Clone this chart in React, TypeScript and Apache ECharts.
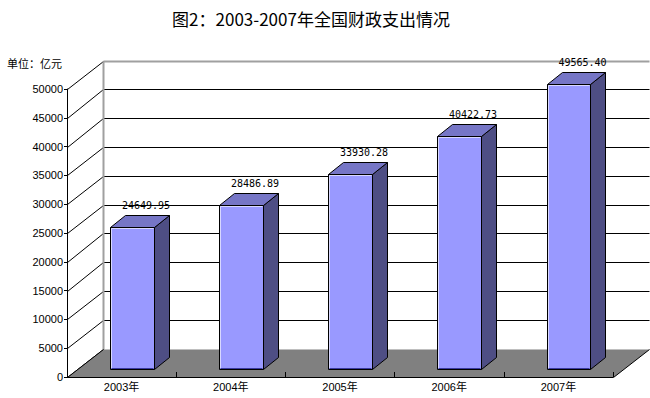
import React, { useEffect, useRef } from "react";
import * as echarts from "echarts";

const categories = ["2003年", "2004年", "2005年", "2006年", "2007年"];
const spending = [24649.95, 28486.89, 33930.28, 40422.73, 49565.4];
const valueLabels = ["24649.95", "28486.89", "33930.28", "40422.73", "49565.40"];
const yTicks = [0, 5000, 10000, 15000, 20000, 25000, 30000, 35000, 40000, 45000, 50000];
const titleText = "图2：2003-2007年全国财政支出情况";
const unitText = "单位：亿元";

const DX = 36;
const DY = -28.5;
const BAR_FRONT = 0.28;
const BAR_BACK = 0.71;
const Y_MAX = 50000;

const px = (v: number) => Math.round(v) + 0.5;

export default function App() {
  const ref = useRef<HTMLDivElement>(null);
  useEffect(() => {
    if (!ref.current) return;
    const chart = echarts.init(ref.current, null, { renderer: "svg" });

    const wallItem = (params: any, api: any) => {
      const cs = params.coordSys;
      const v = api.value(1);
      const p = api.coord([0, v]);
      const x0 = cs.x;
      const x1 = cs.x + cs.width;
      const y = p[1];
      const children: any[] = [];
      children.push({
        type: "line",
        shape: { x1: px(x0), y1: px(y), x2: px(x0 + DX), y2: px(y + DY) },
        style: { stroke: "#000", lineWidth: 1 },
      });
      if (v > 0) {
        children.push({
          type: "line",
          shape: { x1: px(x0 + DX), y1: px(y + DY), x2: px(x1 + DX), y2: px(y + DY) },
          style: { stroke: v >= Y_MAX ? "#a0a0a0" : "#000", lineWidth: v >= Y_MAX ? 2 : 1 },
        });
      }
      if (v >= Y_MAX) {
        const yb = api.coord([0, 0])[1];
        children.push({
          type: "line",
          shape: { x1: px(x0 + DX), y1: px(y + DY), x2: px(x0 + DX), y2: px(yb + DY) },
          style: { stroke: "#a0a0a0", lineWidth: 2 },
        });
      }
      return { type: "group", children };
    };

    const floorItem = (params: any, api: any) => {
      const cs = params.coordSys;
      const x0 = cs.x;
      const x1 = cs.x + cs.width;
      const y0 = api.coord([0, 0])[1];
      return {
        type: "group",
        children: [
          {
            type: "polygon",
            shape: {
              points: [
                [px(x0), px(y0)],
                [px(x1), px(y0)],
                [px(x1 + DX), px(y0 + DY)],
                [px(x0 + DX), px(y0 + DY)],
              ],
            },
            style: { fill: "#808080" },
          },
          {
            type: "line",
            shape: { x1: px(x0), y1: px(y0), x2: px(x0 + DX), y2: px(y0 + DY) },
            style: { stroke: "#000", lineWidth: 1 },
          },
          {
            type: "line",
            shape: { x1: px(x1), y1: px(y0), x2: px(x1 + DX), y2: px(y0 + DY) },
            style: { stroke: "#000", lineWidth: 1 },
          },
        ],
      };
    };

    const barItem = (params: any, api: any) => {
      const idx = api.value(0);
      const val = api.value(1);
      const base = api.coord([idx, 0]);
      const top = api.coord([idx, val]);
      const bw = api.size([1, 0])[0] * 0.4;
      const fx = DX * BAR_FRONT;
      const fy = DY * BAR_FRONT;
      const bdx = DX * (BAR_BACK - BAR_FRONT);
      const bdy = DY * (BAR_BACK - BAR_FRONT);
      const xl = px(base[0] - bw / 2 + fx);
      const xr = px(base[0] + bw / 2 + fx);
      const yt = px(top[1] + fy);
      const yb = px(base[1] + fy);
      const ox = Math.round(bdx);
      const oy = Math.round(bdy);
      return {
        type: "group",
        children: [
          {
            type: "polygon",
            shape: { points: [[xr, yt], [xr + ox, yt + oy], [xr + ox, yb + oy], [xr, yb]] },
            style: { fill: "#4e4e84", stroke: "#000", lineWidth: 1 },
          },
          {
            type: "polygon",
            shape: { points: [[xl, yt], [xr, yt], [xr + ox, yt + oy], [xl + ox, yt + oy]] },
            style: { fill: "#7676c6", stroke: "#000", lineWidth: 1 },
          },
          {
            type: "rect",
            shape: { x: xl, y: yt, width: xr - xl, height: yb - yt },
            style: { fill: "#9999ff", stroke: "#000", lineWidth: 1 },
          },
          {
            type: "polyline",
            shape: { points: [[xl + 1, yb - 1], [xl + 1, yt + 1], [xr - 1, yt + 1]] },
            style: { fill: null, stroke: "#d8d8ff", lineWidth: 1 },
          },
          {
            type: "line",
            shape: { x1: xl + 1, y1: yb - 1, x2: xr - 1, y2: yb - 1 },
            style: { stroke: "#3a3aa0", lineWidth: 1 },
          },
          {
            type: "text",
            style: {
              text: valueLabels[params.dataIndex],
              x: (xl + xr) / 2 + bdx * 0.87,
              y: yt + oy - 10.5,
              textAlign: "center",
              textVerticalAlign: "middle",
              font: '10px "DejaVu Sans Mono"',
              fill: "#000",
            },
          },
        ],
      };
    };

    chart.setOption({
      animation: false,
      backgroundColor: "#fff",
      grid: { left: 67, top: 89, width: 546, height: 288 },
      graphic: [
        {
          type: "text",
          style: {
            text: titleText,
            x: 311,
            y: 18,
            textAlign: "center",
            textVerticalAlign: "middle",
            font: '17px "Noto Sans CJK SC"',
            fill: "#000",
          },
        },
        {
          type: "text",
          style: {
            text: unitText,
            x: 7,
            y: 63,
            textAlign: "left",
            textVerticalAlign: "middle",
            font: '11px "Noto Sans CJK SC"',
            fill: "#000",
          },
        },
      ],
      xAxis: {
        type: "category",
        data: categories,
        z: 10,
        axisLine: { show: true, lineStyle: { color: "#000", width: 1 } },
        axisTick: { show: true, inside: true, length: 5, lineStyle: { color: "#000" } },
        axisLabel: {
          margin: 4,
          color: "#000",
          fontSize: 11,
          fontFamily: "Liberation Sans, Noto Sans CJK SC",
        },
        splitLine: { show: false },
      },
      yAxis: {
        type: "value",
        min: 0,
        max: Y_MAX,
        interval: 5000,
        z: 10,
        axisLine: { show: true, lineStyle: { color: "#000", width: 1 } },
        axisTick: { show: true, length: 3, lineStyle: { color: "#000" } },
        axisLabel: {
          margin: 4,
          color: "#000",
          fontSize: 11,
          fontFamily: "Liberation Sans",
          formatter: (v: number) => String(v),
        },
        splitLine: { show: false },
      },
      series: [
        {
          type: "custom",
          z: 1,
          renderItem: wallItem,
          data: yTicks.map((v) => [0, v]),
          silent: true,
        },
        {
          type: "custom",
          z: 2,
          renderItem: floorItem,
          data: [[0, 0]],
          silent: true,
        },
        {
          type: "custom",
          z: 3,
          renderItem: barItem,
          data: spending.map((v, i) => [i, v]),
        },
      ],
    });
    return () => chart.dispose();
  }, []);
  return (
    <div
      ref={ref}
      style={{ position: "fixed", left: 0, top: 0, width: 650, height: 398 }}
    />
  );
}
